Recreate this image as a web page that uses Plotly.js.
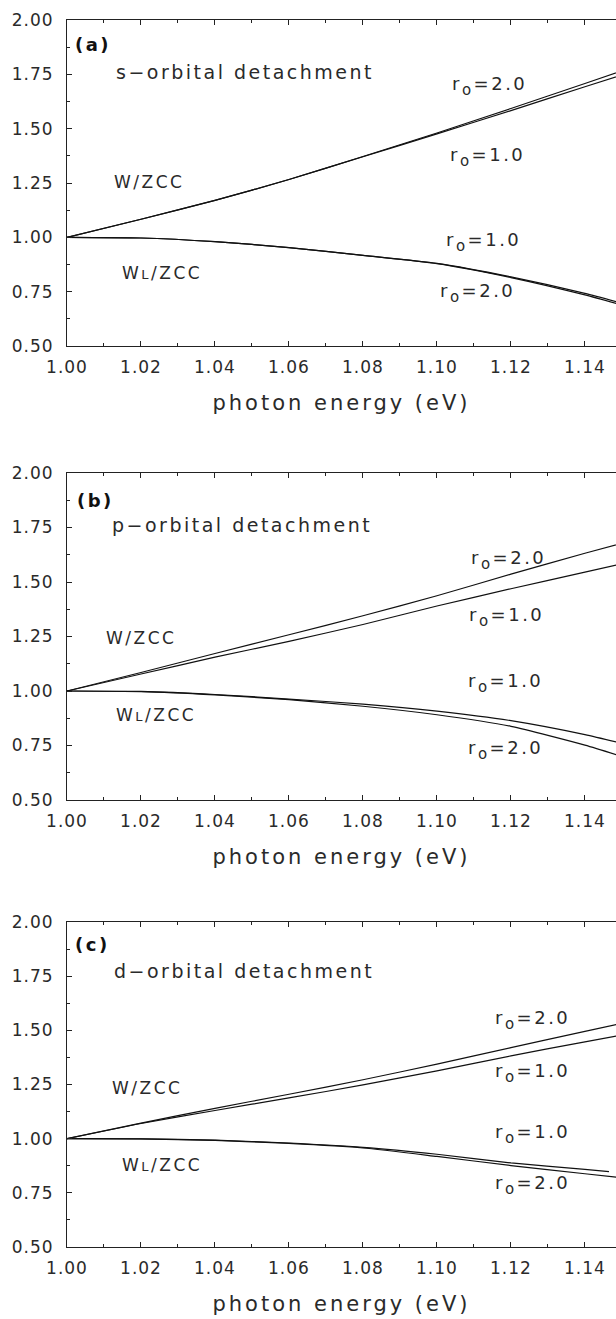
<!DOCTYPE html>
<html>
<head>
<meta charset="utf-8">
<script src="https://cdn.plot.ly/plotly-3.0.1.min.js"></script>
<style>
  html, body { margin: 0; padding: 0; background: #fff; }
  #chart { width: 616px; height: 1319px; }
  .xtitle, .x2title, .x3title { letter-spacing: 3px; }
  .annotation-text { letter-spacing: 2.5px; }
  .xtick text, .ytick text, .x2tick text, .y2tick text, .x3tick text, .y3tick text { letter-spacing: 1px; }
</style>
</head>
<body>
<div id="chart"></div>
<script>
// photon energy grid (eV)
const energy = [1.00, 1.02, 1.04, 1.06, 1.08, 1.10, 1.12, 1.14, 1.15];
const energyShortD = [1.00, 1.02, 1.04, 1.06, 1.08, 1.10, 1.12, 1.14, 1.1465];

// (a) s-orbital detachment
const sW_r2  = [1.000, 1.083, 1.170, 1.266, 1.372, 1.480, 1.593, 1.708, 1.766];
const sW_r1  = [1.000, 1.083, 1.170, 1.266, 1.371, 1.476, 1.583, 1.693, 1.747];
const sWL_r1 = [1.000, 0.997, 0.980, 0.953, 0.917, 0.880, 0.818, 0.742, 0.697];
const sWL_r2 = [1.000, 0.997, 0.980, 0.953, 0.917, 0.879, 0.815, 0.735, 0.688];

// (b) p-orbital detachment
const pW_r2  = [1.000, 1.085, 1.172, 1.258, 1.345, 1.437, 1.536, 1.632, 1.678];
const pW_r1  = [1.000, 1.078, 1.155, 1.228, 1.305, 1.390, 1.469, 1.545, 1.583];
const pWL_r1 = [1.000, 0.998, 0.984, 0.963, 0.940, 0.908, 0.864, 0.800, 0.760];
const pWL_r2 = [1.000, 0.997, 0.982, 0.960, 0.930, 0.891, 0.838, 0.752, 0.700];

// (c) d-orbital detachment
const dW_r2  = [1.000, 1.072, 1.140, 1.205, 1.272, 1.344, 1.420, 1.495, 1.532];
const dW_r1  = [1.000, 1.070, 1.130, 1.188, 1.248, 1.313, 1.382, 1.447, 1.478];
const dWL_r1 = [1.000, 0.999, 0.993, 0.980, 0.960, 0.928, 0.888, 0.858, 0.848];
const dWL_r2 = [1.000, 0.999, 0.992, 0.978, 0.957, 0.918, 0.876, 0.838, 0.819];

const panelLetters = ['(a)', '(b)', '(c)'];
const panelTitles = ['s\u2212orbital detachment', 'p\u2212orbital detachment', 'd\u2212orbital detachment'];
const xTitle = 'photon energy (eV)';
const labelW = 'W/ZCC';
const labelWL = 'W<span style="font-size:13px">L</span>/ZCC';
const SUB_O = '<span style="font-size:15px;baseline-shift:-5px">o</span>';
const labelR2 = 'r' + SUB_O + '=2.0';
const labelR1 = 'r' + SUB_O + '=1.0';

const FONT = 'DejaVu Sans, Liberation Sans, sans-serif';
const INK = '#111';
const TXT = '#2a2a2a';

const lineStyle = {color: INK, width: 1.2, shape: 'spline', smoothing: 0.6};

function tr(x, y, ax) {
  return {x: x, y: y, xaxis: 'x' + ax, yaxis: 'y' + ax, mode: 'lines',
          line: lineStyle, showlegend: false, hoverinfo: 'skip'};
}

const data = [
  tr(energy, sW_r2, ''), tr(energy, sW_r1, ''), tr(energy, sWL_r1, ''), tr(energy, sWL_r2, ''),
  tr(energy, pW_r2, '2'), tr(energy, pW_r1, '2'), tr(energy, pWL_r1, '2'), tr(energy, pWL_r2, '2'),
  tr(energy, dW_r2, '3'), tr(energy, dW_r1, '3'), tr(energyShortD, dWL_r1, '3'), tr(energy, dWL_r2, '3')
];

const H = 1319;
function dom(topPx, botPx) { return [1 - botPx / H, 1 - topPx / H]; }

function xax(anchor) {
  return {
    anchor: anchor, domain: [0, 1], range: [1.0, 1.1484],
    tick0: 1.0, dtick: 0.02, tickformat: '.2f',
    ticks: 'inside', ticklen: 5, tickwidth: 1, tickcolor: '#222',
    showline: true, linecolor: '#222', linewidth: 1, mirror: 'ticks',
    showgrid: false, zeroline: false,
    minor: {dtick: 0.01, tick0: 1.0, ticks: 'inside', ticklen: 3, tickwidth: 1, tickcolor: '#222', showgrid: false},
    tickfont: {family: FONT, size: 17, color: TXT},
    ticklabelstandoff: 6,
    title: {text: xTitle, font: {family: FONT, size: 21, color: TXT}, standoff: 18}
  };
}
function yax(anchor, d) {
  return {
    anchor: anchor, domain: d, range: [0.5, 2.0],
    tick0: 0.5, dtick: 0.25, tickformat: '.2f',
    ticks: 'inside', ticklen: 5, tickwidth: 1, tickcolor: '#222',
    showline: true, linecolor: '#222', linewidth: 1, mirror: false,
    showgrid: false, zeroline: false,
    minor: {dtick: 0.125, tick0: 0.5, ticks: 'inside', ticklen: 3, tickwidth: 1, tickcolor: '#222', showgrid: false},
    tickfont: {family: FONT, size: 17, color: TXT},
    ticklabelstandoff: 9
  };
}

// annotation placements [x, y] in each panel's data units
const annPos = [
  {letter: [1.0016, 1.885], title: [1.0127, 1.761], w: [1.0122, 1.255], wl: [1.0143, 0.836],
   r2u: [1.1035, 1.696], r1u: [1.1030, 1.370], r1l: [1.1019, 0.978], r2l: [1.1003, 0.744]},
  {letter: [1.0022, 1.876], title: [1.0116, 1.761], w: [1.0100, 1.243], wl: [1.0127, 0.890],
   r2u: [1.1086, 1.601], r1u: [1.1081, 1.339], r1l: [1.1078, 1.037], r2l: [1.1078, 0.729]},
  {letter: [1.0016, 1.894], title: [1.0122, 1.774], w: [1.0116, 1.234], wl: [1.0143, 0.879],
   r2u: [1.1151, 1.548], r1u: [1.1151, 1.303], r1l: [1.1151, 1.022], r2l: [1.1151, 0.786]}
];

const annotations = [];
annPos.forEach(function (p, i) {
  const ax = i === 0 ? '' : String(i + 1);
  function add(pos, text, size, bold) {
    annotations.push({
      xref: 'x' + ax, yref: 'y' + ax, x: pos[0], y: pos[1], text: text,
      xanchor: 'left', yanchor: 'middle', align: 'left', showarrow: false,
      font: {family: FONT, size: size, color: bold ? '#111' : TXT, weight: bold ? 'bold' : 'normal'}
    });
  }
  add(p.letter, panelLetters[i], 18, true);
  add(p.title, panelTitles[i], 19, false);
  add(p.w, labelW, 17, false);
  add(p.wl, labelWL, 17, false);
  add(p.r2u, labelR2, 18, false);
  add(p.r1u, labelR1, 18, false);
  add(p.r1l, labelR1, 18, false);
  add(p.r2l, labelR2, 18, false);
});

const layout = {
  width: 616, height: 1319,
  margin: {l: 67, r: 0, t: 0, b: 0},
  paper_bgcolor: '#fff', plot_bgcolor: '#fff',
  showlegend: false,
  font: {family: FONT, color: TXT},
  xaxis: xax('y'), yaxis: yax('x', dom(20, 346)),
  xaxis2: xax('y2'), yaxis2: yax('x2', dom(473, 800)),
  xaxis3: xax('y3'), yaxis3: yax('x3', dom(922, 1247)),
  annotations: annotations
};

Plotly.newPlot('chart', data, layout, {displayModeBar: false});
</script>
</body>
</html>
